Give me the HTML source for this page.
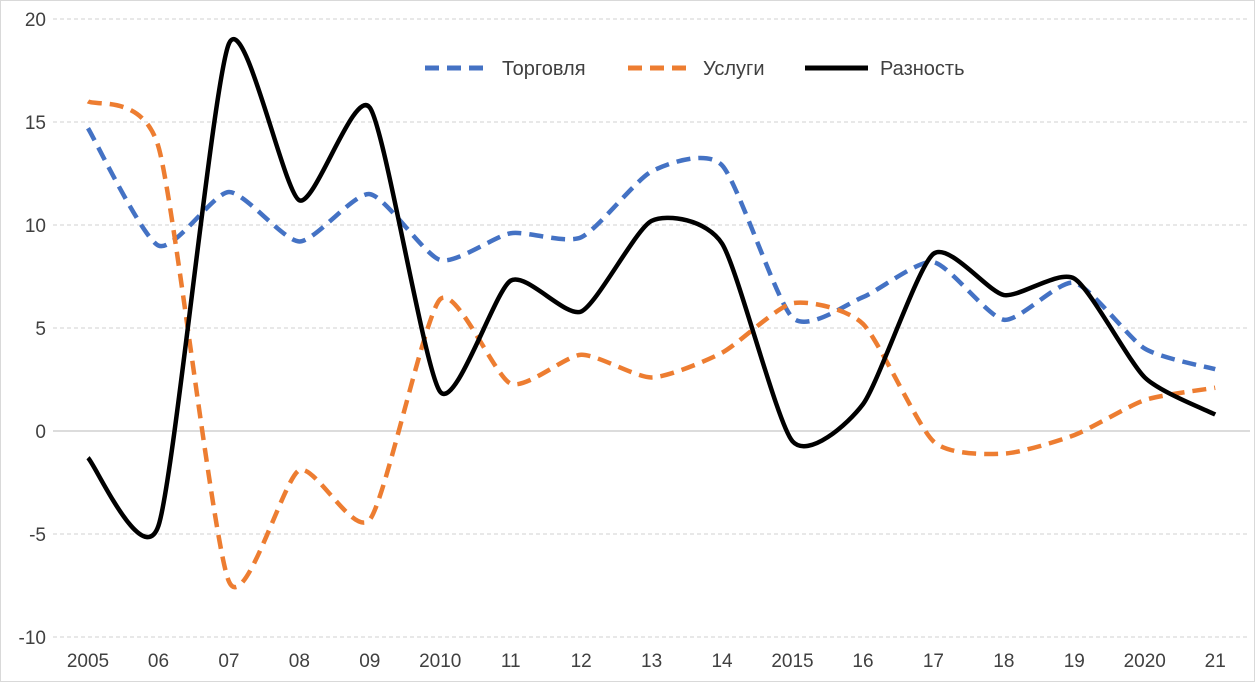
<!DOCTYPE html>
<html><head><meta charset="utf-8"><style>
body{margin:0;background:#fff}
svg{display:block;font-family:"Liberation Sans",sans-serif}
</style></head><body>
<svg id="s" width="1255" height="682" xmlns="http://www.w3.org/2000/svg">
<rect x="0.5" y="0.5" width="1254" height="681" fill="#fff" stroke="#d9d9d9"/>
<g id="grid" stroke="#d0d0d0" stroke-dasharray="4,3" stroke-width="1"></g>
<line x1="53" y1="431" x2="1250" y2="431" stroke="#c8c8c8" stroke-width="1.2"/>
<g id="yl" font-size="19" fill="#404040" text-anchor="end"></g>
<g id="xl" font-size="19" fill="#404040" text-anchor="middle"></g>
<g id="lines"></g>
<g font-size="20" fill="#404040">
<line x1="425" y1="68" x2="490" y2="68" stroke="#4472c4" stroke-width="5" stroke-dasharray="14,8"/>
<text x="502" y="75">Торговля</text>
<line x1="628" y1="68" x2="690" y2="68" stroke="#ed7d31" stroke-width="5" stroke-dasharray="14,8"/>
<text x="703" y="75">Услуги</text>
<line x1="805" y1="68" x2="868" y2="68" stroke="#000" stroke-width="5"/>
<text x="880" y="75">Разность</text>
</g>
</svg>
<script>
var NS="http://www.w3.org/2000/svg";
function Y(v){return 431-v*20.6;}
function X(i){return 88+i*70.45;}
var g=document.getElementById('grid'),yl=document.getElementById('yl'),xl=document.getElementById('xl');
for(var v=-10;v<=20;v+=5){
 if(v!=0){var l=document.createElementNS(NS,'line');l.setAttribute('x1',53);l.setAttribute('x2',1250);l.setAttribute('y1',Y(v));l.setAttribute('y2',Y(v));g.appendChild(l);}
 var t=document.createElementNS(NS,'text');t.setAttribute('x',46);t.setAttribute('y',Y(v)+7);t.textContent=v;yl.appendChild(t);
}
var labs=["2005","06","07","08","09","2010","11","12","13","14","2015","16","17","18","19","2020","21"];
labs.forEach(function(s,i){var t=document.createElementNS(NS,'text');t.setAttribute('x',X(i));t.setAttribute('y',667);t.textContent=s;xl.appendChild(t);});
var series=[
 {d:[14.7,9,11.6,9.2,11.5,8.3,9.6,9.4,12.6,12.9,5.5,6.5,8.2,5.4,7.2,4,3],c:"#4472c4",da:"14,8"},
 {d:[16,13.8,-7.3,-1.9,-4.3,6.4,2.3,3.7,2.6,3.8,6.2,5.2,-0.5,-1.1,-0.2,1.5,2.1],c:"#ed7d31",da:"14,8"},
 {d:[-1.3,-4.6,18.8,11.2,15.7,1.9,7.3,5.8,10.2,9.1,-0.5,1.3,8.6,6.6,7.4,2.6,0.8],c:"#000",da:""}
];
var L=document.getElementById('lines');
series.forEach(function(s){
 var p=s.d.map(function(v,i){return [X(i),Y(v)];});
 var d="M"+p[0][0]+","+p[0][1];
 for(var i=0;i<p.length-1;i++){
  var p0=p[Math.max(0,i-1)],p1=p[i],p2=p[i+1],p3=p[Math.min(p.length-1,i+2)];
  var k=0.11;
  var c1=[p1[0]+(p2[0]-p0[0])*k,p1[1]+(p2[1]-p0[1])*k];
  var c2=[p2[0]-(p3[0]-p1[0])*k,p2[1]-(p3[1]-p1[1])*k];
  d+=" C"+c1+" "+c2+" "+p2;
 }
 var e=document.createElementNS(NS,'path');e.setAttribute('d',d);e.setAttribute('fill','none');e.setAttribute('stroke',s.c);e.setAttribute('stroke-width',4.5);
 if(s.da)e.setAttribute('stroke-dasharray',s.da);
 L.appendChild(e);
});
</script>
</body></html>
